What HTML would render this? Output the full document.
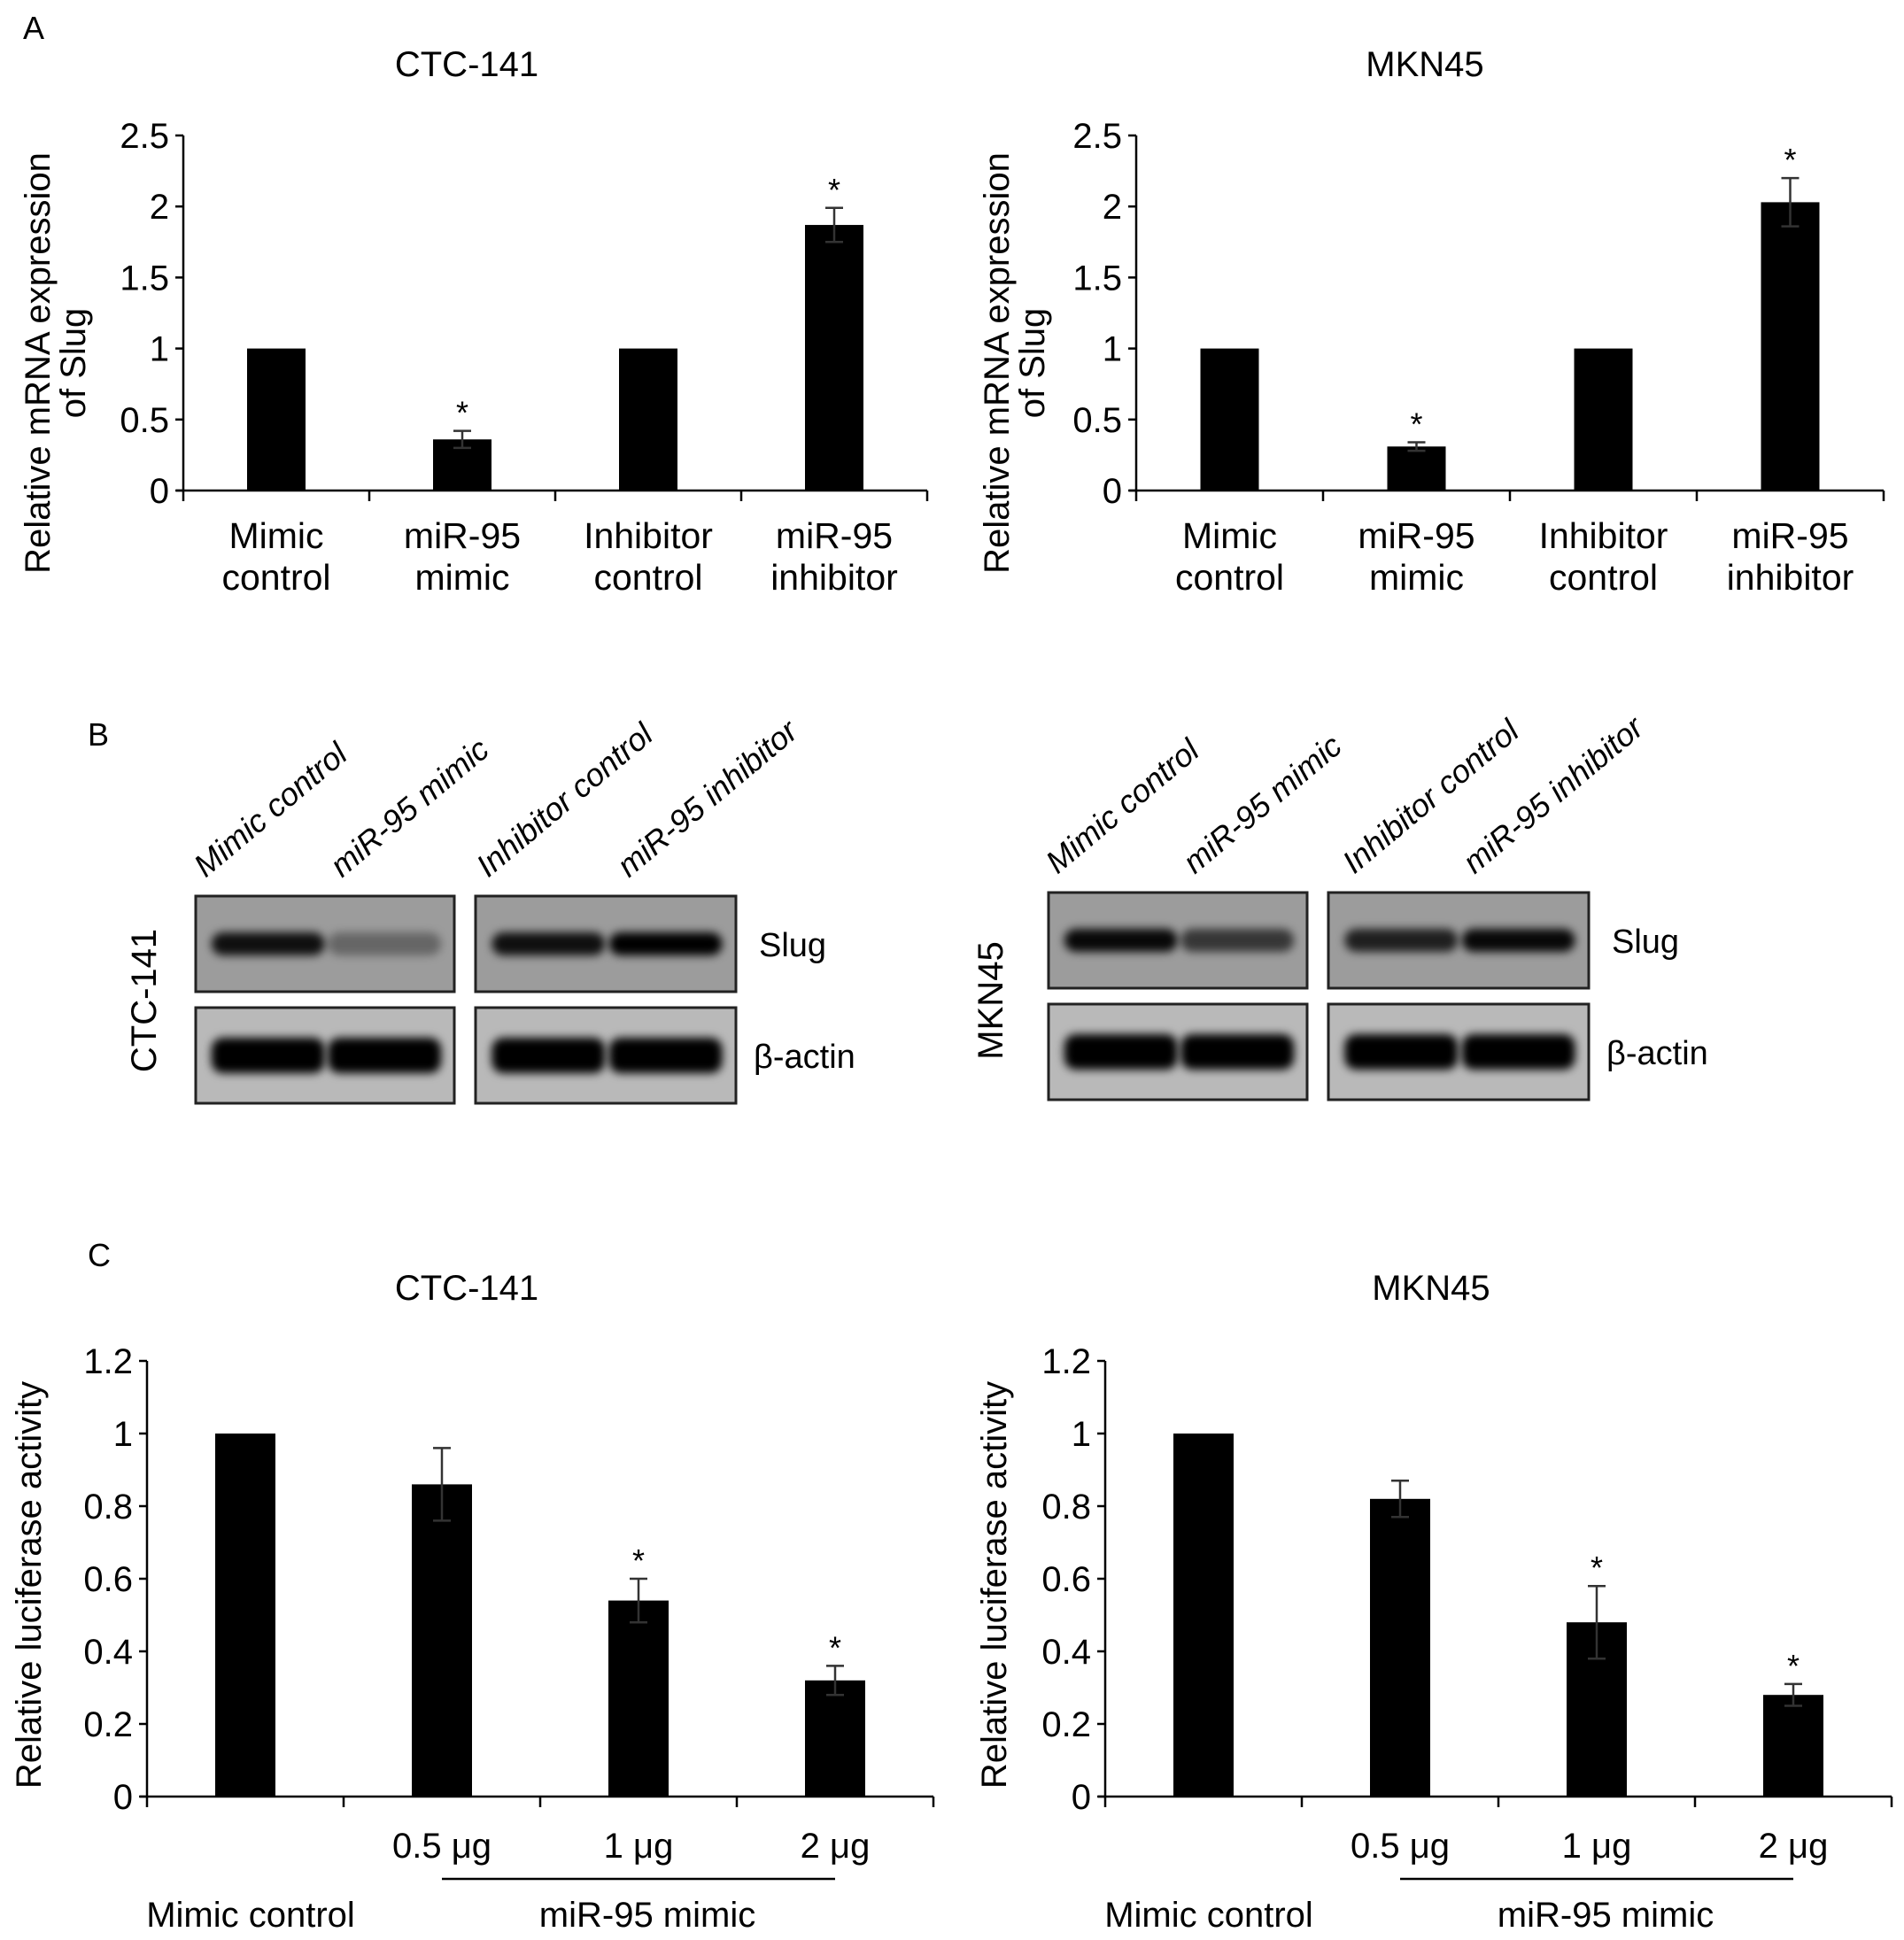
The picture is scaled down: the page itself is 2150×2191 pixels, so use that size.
<!DOCTYPE html>
<html><head><meta charset="utf-8">
<style>
html,body{margin:0;padding:0;background:#fff;}
svg{display:block;font-family:"Liberation Sans",Arial,sans-serif;}
</style></head>
<body>
<svg id="fig" width="2150" height="2191" viewBox="0 0 2150 2191" xmlns="http://www.w3.org/2000/svg">
<defs>
<filter id="blur" x="-20%" y="-50%" width="140%" height="200%"><feGaussianBlur stdDeviation="5"/></filter>
</defs>
<text x="26" y="44" font-size="36">A</text>
<text x="99" y="842" font-size="36">B</text>
<text x="99" y="1430" font-size="36">C</text>
<g id="gA1"></g>
<g id="gA2"></g>
<g id="gB"></g>
<g id="gC1"></g>
<g id="gC2"></g>
</svg>
<script>
// Panel A data
const aCategories = [["Mimic","control"],["miR-95","mimic"],["Inhibitor","control"],["miR-95","inhibitor"]];
const aTicks = ["0","0.5","1","1.5","2","2.5"];
const aTickValues = [0,0.5,1,1.5,2,2.5];
const aCtcValues = [1,0.36,1,1.87];
const aCtcErr = [0,0.06,0,0.12];
const aCtcStar = [false,true,false,true];
const aMknValues = [1,0.31,1,2.03];
const aMknErr = [0,0.03,0,0.17];
const aMknStar = [false,true,false,true];
// Panel C data
const cCategories = ["","0.5 μg","1 μg","2 μg"];
const cTicks = ["0","0.2","0.4","0.6","0.8","1","1.2"];
const cTickValues = [0,0.2,0.4,0.6,0.8,1,1.2];
const cCtcValues = [1,0.86,0.54,0.32];
const cCtcErr = [0,0.10,0.06,0.04];
const cCtcStar = [false,false,true,true];
const cMknValues = [1,0.82,0.48,0.28];
const cMknErr = [0,0.05,0.10,0.03];
const cMknStar = [false,false,true,true];

const NS="http://www.w3.org/2000/svg";
function mk(parent,tag,attrs,text){
  const e=document.createElementNS(NS,tag);
  for(const k in attrs) e.setAttribute(k,attrs[k]);
  if(text!==undefined) e.textContent=text;
  parent.appendChild(e);return e;
}
function chart(g,o){
  const n=o.values.length;
  const step=(o.x1-o.x0)/n;
  const xc=i=>o.x0+step*(i+0.5);
  const y=v=>o.y0-(v/o.vmax)*(o.y0-o.yTop);
  let ax=mk(g,'line',{x1:o.x0,y1:o.yTop,x2:o.x0,y2:o.y0,stroke:'#000','stroke-width':2.5});
  
  
  ax=mk(g,'line',{x1:o.x0-8,y1:o.y0,x2:o.x1,y2:o.y0,stroke:'#000','stroke-width':2.5});
  
  
  o.tickValues.forEach((v,i)=>{
    mk(g,'line',{x1:o.x0-9,y1:y(v),x2:o.x0,y2:y(v),stroke:'#000','stroke-width':2.5});
    const t=mk(g,'text',{x:o.x0-16,y:y(v)+14,'font-size':40,'text-anchor':'end'},o.ticks[i]);
    
    
  });
  for(let i=0;i<=n;i++){
    const xx=o.x0+step*i;
    mk(g,'line',{x1:xx,y1:o.y0,x2:xx,y2:o.y0+12,stroke:'#000','stroke-width':2.5});
  }
  o.values.forEach((v,i)=>{
    const b=mk(g,'rect',{x:xc(i)-o.bw/2,y:y(v),width:o.bw,height:o.y0-y(v),fill:'#000'});
    
    
    const e=o.err[i];
    if(e>0){
      const eg=mk(g,'g',{stroke:'#333','stroke-width':2.5});
      
      
      mk(eg,'line',{x1:xc(i),y1:y(v+e),x2:xc(i),y2:y(v-e)});
      mk(eg,'line',{x1:xc(i)-10,y1:y(v+e),x2:xc(i)+10,y2:y(v+e)});
      mk(eg,'line',{x1:xc(i)-10,y1:y(v-e),x2:xc(i)+10,y2:y(v-e)});
    }
    if(o.star[i]){
      const s=mk(g,'text',{x:xc(i),y:y(v+e)-8,'font-size':36,'text-anchor':'middle'},'*');
      
      
    }
  });
  const ti=mk(g,'text',{x:o.titleX,y:o.titleY,'font-size':40,'text-anchor':'middle'},o.title);
  
  
  const yt=mk(g,'text',{transform:`translate(${o.ytX},${o.ytY}) rotate(-90)`,'font-size':40,'text-anchor':'middle'});
  
  
  o.ytLines.forEach((l,k)=>mk(yt,'tspan',{x:0,dy:k?40:0},l));
  return {xc,step};
}
const gA1=document.getElementById('gA1'),gA2=document.getElementById('gA2');
[[gA1,207,1047,aCtcValues,aCtcErr,aCtcStar,'CTC-141',527,56],[gA2,1283,2127,aMknValues,aMknErr,aMknStar,'MKN45',1609,1139]].forEach(p=>{
  const r=chart(p[0],{x0:p[1],x1:p[2],y0:554,yTop:153,vmax:2.5,bw:66,values:p[3],err:p[4],star:p[5],
    ticks:aTicks,tickValues:aTickValues,title:p[6],titleX:p[7],titleY:86,ytX:p[8],ytY:410,
    ytLines:['Relative mRNA expression','of Slug']});
  aCategories.forEach((c,i)=>{
    const t=mk(p[0],'text',{x:r.xc(i),y:619,'font-size':41,'text-anchor':'middle'});
    
    
    mk(t,'tspan',{x:r.xc(i),dy:0},c[0]);mk(t,'tspan',{x:r.xc(i),dy:47},c[1]);
  });
});
const gC1=document.getElementById('gC1'),gC2=document.getElementById('gC2');
[[gC1,166,1054,cCtcValues,cCtcErr,cCtcStar,'CTC-141',527,46],[gC2,1248,2136,cMknValues,cMknErr,cMknStar,'MKN45',1616,1136]].forEach(p=>{
  const r=chart(p[0],{x0:p[1],x1:p[2],y0:2029,yTop:1537,vmax:1.2,bw:68,values:p[3],err:p[4],star:p[5],
    ticks:cTicks,tickValues:cTickValues,title:p[6],titleX:p[7],titleY:1468,ytX:p[8],ytY:1790,
    ytLines:['Relative luciferase activity']});
  cCategories.forEach((c,i)=>{
    const t=mk(p[0],'text',{x:r.xc(i),y:2110-12,'font-size':40,'text-anchor':'middle'},c);
    
    
  });
  const ln=mk(p[0],'line',{x1:r.xc(1),y1:2122,x2:r.xc(3),y2:2122,stroke:'#000','stroke-width':2.5});
  
  
  let t=mk(p[0],'text',{x:r.xc(0)+6,y:2176,'font-size':40,'text-anchor':'middle'},'Mimic control');
  
  
  t=mk(p[0],'text',{x:r.xc(2)+10,y:2176,'font-size':40,'text-anchor':'middle'},'miR-95 mimic');
  
  
});

// Panel B western blots (band intensity 0-1 per lane)
const bLanes = ["Mimic control","miR-95 mimic","Inhibitor control","miR-95 inhibitor"];
const bCtcSlug = [0.9,0.35,0.9,1];
const bCtcActin = [1,1,1,1];
const bMknSlug = [0.95,0.65,0.8,0.95];
const bMknActin = [1,1,1,1];
const gB=document.getElementById('gB');
function blotSet(x0,y0,slug,actin,labelXs){
  const boxes=[[x0,292],[x0+316,294]];
  [[0,slug,'#9c9c9c','slug-blot'],[1,actin,'#b9b9b9','actin-blot']].forEach(([row,vals,bg,nm])=>{
    const yy=y0+row*126;
    boxes.forEach((b,bi)=>{
      const bx=mk(gB,'rect',{x:b[0],y:yy,width:b[1],height:108,fill:bg,stroke:'#222','stroke-width':3});
      
      
      for(let k=0;k<2;k++){
        const li=bi*2+k;const v=vals[li];
        const cx=b[0]+b[1]*(k?0.73:0.28);
        const band=mk(gB,'rect',{x:cx-64,y:yy+54-(row?20:13),width:128,height:row?40:26,rx:13,fill:'#000','fill-opacity':v,filter:'url(#blur)'});
        
        
      }
    });
  });
  let t=mk(gB,'text',{x:x0+636,y:y0+68,'font-size':38},'Slug');
  
  
  t=mk(gB,'text',{x:x0+630,y:y0+194,'font-size':38},'β-actin');
  
  
  bLanes.forEach((l,i)=>{
    const t=mk(gB,'text',{transform:`translate(${labelXs[i]},${y0-20}) rotate(-40)`,'font-size':36,'font-style':'italic'},l);
    
    
  });
}
blotSet(221,1012,bCtcSlug,bCtcActin,[232,386,551,710]);
blotSet(1184,1008,bMknSlug,bMknActin,[1194,1349,1529,1665]);
let tt=mk(gB,'text',{transform:'translate(176,1130) rotate(-90)','font-size':40,'text-anchor':'middle'},'CTC-141');


tt=mk(gB,'text',{transform:'translate(1132,1130) rotate(-90)','font-size':40,'text-anchor':'middle'},'MKN45');


</script>
</body></html>
